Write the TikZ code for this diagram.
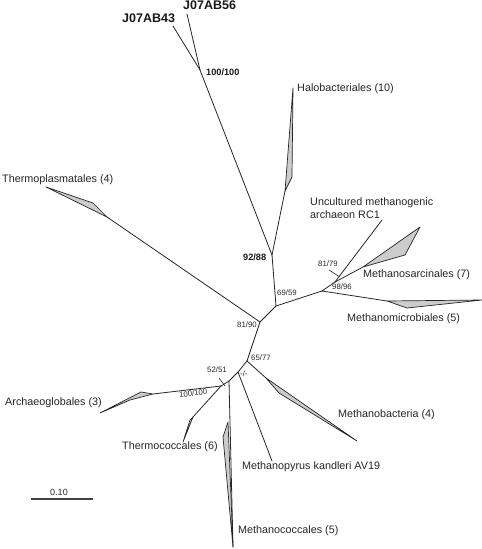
\documentclass[tikz,border=0pt]{standalone}
\usepackage{fontspec}
\setmainfont{Liberation Sans}
\begin{document}
\begin{tikzpicture}[x=1pt,y=-1pt,
  br/.style={draw=black!85,line width=0.8pt,line cap=round},
  clade/.style={fill=black!20,draw=black!85,line width=0.7pt,line join=round},
  lab/.style={inner sep=0,anchor=west,text=black!85,font=\fontsize{10.8}{12.3}\selectfont},
  bs/.style={inner sep=0,anchor=west,text=black!85,font=\fontsize{7.8}{9}\selectfont},
  bsb/.style={inner sep=0,anchor=west,text=black!90,font=\fontsize{9.2}{11}\selectfont\bfseries},
  seq/.style={inner sep=0,anchor=west,text=black!90,font=\fontsize{12.5}{14}\selectfont\bfseries},
  tick/.style={draw=black!85,line width=0.6pt}]
\useasboundingbox (0,0) rectangle (482,549);
% internal nodes
\coordinate (nA) at (200,70);
\coordinate (nB) at (272,255);
\coordinate (nC) at (276,306);
\coordinate (nD) at (260,322);
\coordinate (nE) at (247,361);
\coordinate (nF) at (238,372);
\coordinate (nG) at (229,381);
\coordinate (nH) at (221,386);
\coordinate (nI) at (322,291);
\coordinate (nJ) at (335,282);
% leaves and clade bases
\coordinate (ab43) at (173,26);
\coordinate (ab56) at (187,14);
\coordinate (halo) at (285,191);
\coordinate (thpl) at (107,217);
\coordinate (rc1) at (382,220);
\coordinate (msar) at (363,267);
\coordinate (mmic) at (387,301);
\coordinate (mbac) at (266,378);
\coordinate (mpyr) at (272,461);
\coordinate (mcoc) at (233,547);
\coordinate (agl) at (153,394);
\coordinate (tcoc) at (193,417);
% clades
\draw[clade] (halo) -- (292,177) -- (293,88) -- cycle;
\draw[clade] (thpl) -- (93,203) -- (46,187) -- cycle;
\draw[clade] (msar) -- (420,227) -- (405,255) -- cycle;
\draw[clade] (mmic) -- (482,300) -- (407,308) -- cycle;
\draw[clade] (mbac) -- (357,441) -- (279,393) -- cycle;
\draw[clade] (agl) -- (141,392) -- (100,413) -- (130,400) -- cycle;
\draw[clade] (tcoc) -- (183,442) -- (190,420) -- cycle;
\draw[clade] (228,422) -- (223,437) -- (mcoc) -- cycle;
% branches
\draw[br] (ab43) -- (nA);
\draw[br] (ab56) -- (nA);
\draw[br] (nA) -- (nB);
\draw[br] (nB) -- (halo);
\draw[br] (nB) -- (nC);
\draw[br] (nC) -- (nD);
\draw[br] (nD) -- (thpl);
\draw[br] (nC) -- (nI);
\draw[br] (nI) -- (nJ);
\draw[br] (nJ) -- (rc1);
\draw[br] (nJ) -- (msar);
\draw[br] (nI) -- (mmic);
\draw[br] (nD) -- (nE);
\draw[br] (nE) -- (mbac);
\draw[br] (nE) -- (nF) -- (nG) -- (nH);
\draw[br] (nF) -- (mpyr);
\draw[br] (nG) -- (mcoc);
\draw[br] (nH) -- (agl);
\draw[br] (nH) -- (tcoc);
% ticks to support values
\draw[tick] (329,270) -- (340,277);
\draw[tick] (219,378) -- (225,386);
% sequence labels
\node[seq] (l43) at (122,18) {J07AB43};
\node[seq] (l56) at (183,5) {J07AB56};
% support values
\node[bsb] (s1) at (206,72) {100/100};
\node[bsb] (s2) at (243,257) {92/88};
\node[bs] (s3) at (277,293) {69/59};
\node[bs] (s4) at (237,325) {81/90};
\node[bs] (s5) at (318,264) {81/79};
\node[bs] (s6) at (332,287) {98/96};
\node[bs] (s7) at (251,358) {65/77};
\node[bs] (s8) at (207,370) {52/51};
\node[bs] (s9) at (240,374) {-/-};
\node[bs,rotate=7] (s10) at (179,395) {100/100};
% clade labels
\node[lab] (t1) at (297,89) {Halobacteriales (10)};
\node[lab] (t2) at (2,180) {Thermoplasmatales (4)};
\node[lab,align=left] (t3) at (310,208) {Uncultured methanogenic\\archaeon RC1};
\node[lab] (t4) at (363,275) {Methanosarcinales (7)};
\node[lab] (t5) at (347,319) {Methanomicrobiales (5)};
\node[lab] (t6) at (338,415) {Methanobacteria (4)};
\node[lab] (t7) at (242,467) {Methanopyrus kandleri AV19};
\node[lab] (t8) at (238,531) {Methanococcales (5)};
\node[lab] (t9) at (5,403) {Archaeoglobales (3)};
\node[lab] (t10) at (122,447) {Thermococcales (6)};
% scale bar
\draw[draw=black!75,line width=1.5pt] (31,499) coordinate (sb1) -- (93,499) coordinate (sb2);
\node[inner sep=0,text=black!85,font=\fontsize{9}{10}\selectfont] (sbl) at (59,492) {0.10};
\end{tikzpicture}
\end{document}
